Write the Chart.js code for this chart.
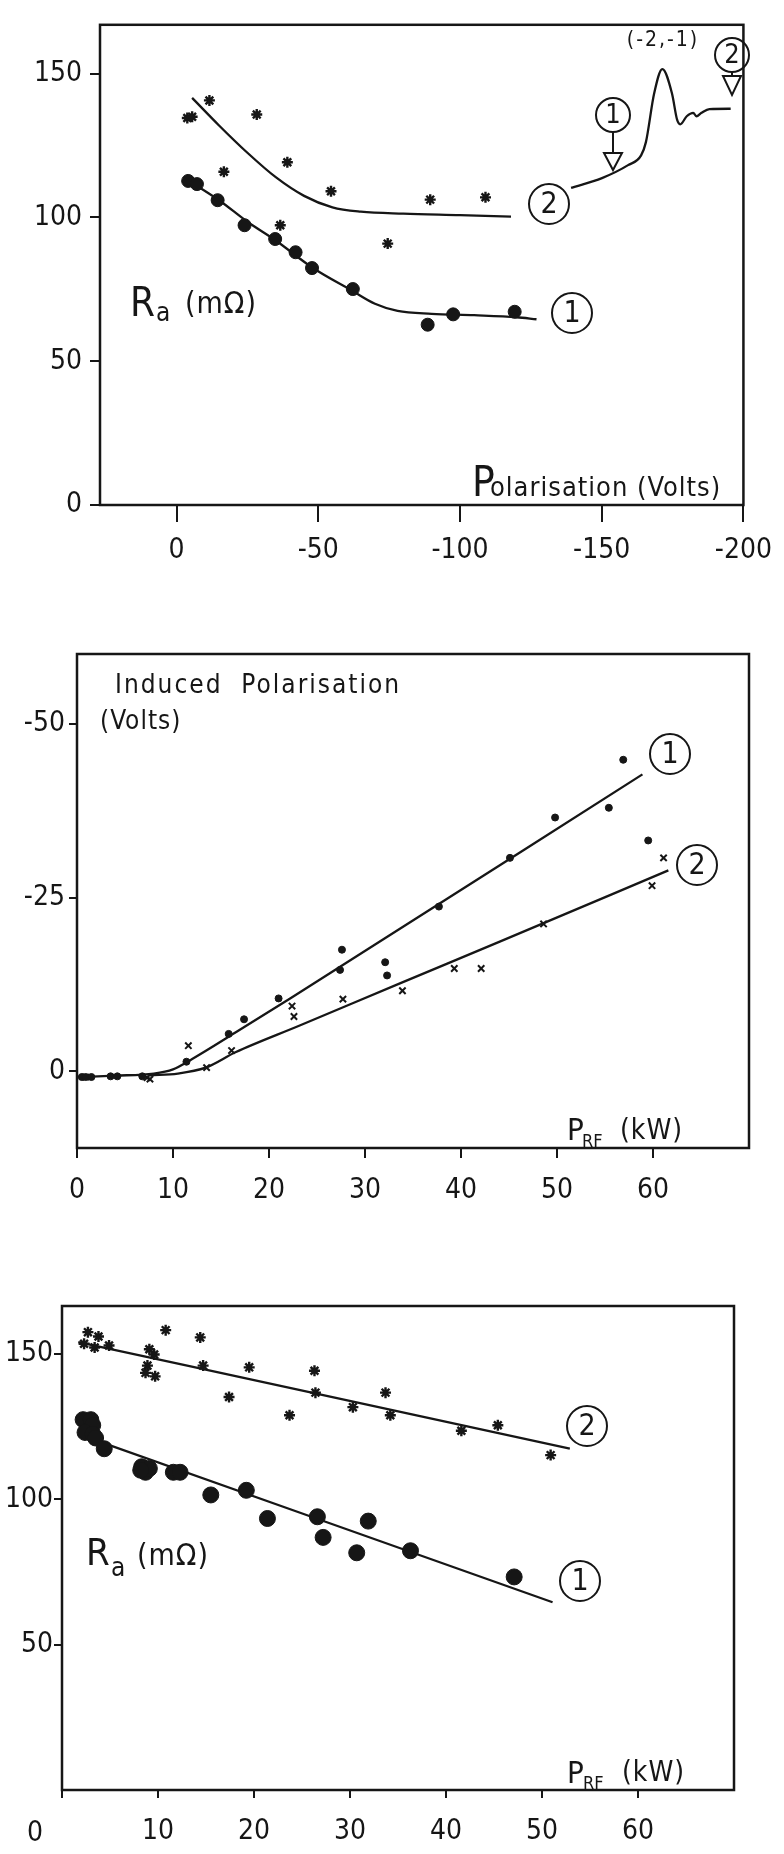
<!DOCTYPE html>
<html><head><meta charset="utf-8">
<script src="https://cdn.jsdelivr.net/npm/chart.js@4/dist/chart.umd.min.js"></script>
<style>
html,body{margin:0;padding:0;background:#fff;}
body{width:784px;height:1854px;position:relative;overflow:hidden;}
canvas{position:absolute;left:0;}
</style></head><body>
<canvas id="c1" width="784" height="600" style="top:0px"></canvas>
<canvas id="c2" width="784" height="620" style="top:600px"></canvas>
<canvas id="c3" width="784" height="634" style="top:1220px"></canvas>
<script>
// ---------------- Panel 1: Ra vs Polarisation ----------------
const p1XTicks = [0, -50, -100, -150, -200];
const p1YTicks = [0, 50, 100, 150];
const p1DotX = [-4.1, -7.2, -14.5, -24, -34.8, -42, -47.8, -62.2, -88.6, -97.6, -119.3];
const p1DotY = [112.7, 111.6, 106, 97.3, 92.5, 87.9, 82.4, 75.1, 62.7, 66.3, 67.2];
const p1StarX = [-3.8, -5.5, -11.6, -28.3, -16.7, -39.1, -36.6, -54.5, -74.5, -89.5, -109];
const p1StarY = [134.6, 135, 140.7, 135.8, 115.9, 119.2, 97.3, 109.1, 90.9, 106.2, 107];
const p1Fit1X = [-4, -15, -25, -35, -48, -62, -70, -78, -90, -105, -120, -127];
const p1Fit1Y = [113, 106, 98.5, 92, 82.5, 74.5, 70, 67.5, 66.5, 66, 65.3, 64.6];
const p1Fit2X = [-5.5, -15, -25, -35, -45, -55, -65, -80, -100, -118];
const p1Fit2Y = [141.6, 132, 122.5, 114, 107.5, 103.5, 102, 101.3, 100.8, 100.3];
const p1InsetX = [-139.2, -150.1, -159.3, -163.9, -165.6, -168.5, -171.4, -174.8, -176.6, -177.7, -180, -182.3, -183.4, -185.2, -188, -195.5];
const p1InsetY = [110.3, 113.7, 118.2, 121.6, 126.2, 143.1, 151.6, 143.1, 134, 132.4, 135.2, 136.4, 135.2, 136.4, 137.7, 137.8];

// ---------------- Panel 2: Induced polarisation vs P_RF ----------------
const p2XTicks = [0, 10, 20, 30, 40, 50, 60];
const p2YTicks = [-50, -25, 0];
const p2DotX = [56.9, 49.8, 55.4, 59.5, 45.1, 37.7, 27.6, 27.4, 32.1, 32.3, 21.0, 17.4, 15.8, 11.4, 0.5, 0.9, 1.5, 3.5, 4.2, 6.8];
const p2DotY = [-44.8, -36.5, -37.9, -33.2, -30.7, -23.7, -17.5, -14.6, -15.7, -13.8, -10.5, -7.5, -5.4, -1.4, 0.8, 0.8, 0.8, 0.7, 0.7, 0.7];
const p2CrossX = [61.1, 59.9, 48.6, 42.1, 39.3, 33.9, 27.7, 22.4, 22.6, 16.1, 11.6, 13.5, 7.3, 7.6, 0.9];
const p2CrossY = [-30.7, -26.7, -21.2, -14.8, -14.8, -11.6, -10.4, -9.4, -7.9, -3.0, -3.7, -0.55, 0.9, 1.1, 0.8];
const p2Fit1X = [0.3, 4, 8, 10, 12, 16.5, 22.2, 58.9];
const p2Fit1Y = [0.8, 0.6, 0.3, -0.3, -1.8, -5.6, -10.5, -42.7];
const p2Fit2X = [7.6, 10.5, 13.4, 16.5, 23.2, 33.7, 44.1, 61.6];
const p2Fit2Y = [0.55, 0.3, -0.55, -2.75, -6.6, -12.7, -18.7, -28.9];

// ---------------- Panel 3: Ra vs P_RF ----------------
const p3XTicks = [0, 10, 20, 30, 40, 50, 60];
const p3YTicks = [50, 100, 150];
const p3DotX = [2.2, 3.0, 3.2, 2.4, 3.2, 3.5, 4.4, 8.3, 8.7, 9.1, 8.2, 11.6, 12.3, 15.5, 19.2, 21.4, 26.6, 27.2, 30.7, 31.9, 36.3, 47.1];
const p3DotY = [127.4, 127.4, 125.5, 123, 122.4, 121.1, 117.4, 111.2, 109.3, 110.6, 110, 109.3, 109.3, 101.5, 103.1, 93.4, 94, 86.9, 81.6, 92.5, 82.3, 73.3];
const p3StarX = [2.7, 3.8, 2.3, 3.4, 4.9, 9.1, 9.6, 8.9, 8.7, 9.7, 10.8, 14.4, 14.7, 19.5, 17.4, 23.7, 26.3, 26.4, 30.3, 33.7, 34.2, 41.6, 45.4, 50.9];
const p3StarY = [157.5, 156, 153.5, 152.2, 152.9, 151.6, 149.8, 146, 143.5, 142.3, 158.2, 155.7, 146, 145.4, 135.2, 128.9, 144.2, 136.7, 131.7, 136.7, 128.9, 123.6, 125.5, 115.2];
const p3Fit1X = [1.7, 51.1];
const p3Fit1Y = [122.4, 64.6];
const p3Fit2X = [1.7, 52.9];
const p3Fit2Y = [154.1, 117.4];

// ---------------- helpers ----------------
const FONT = '"Liberation Sans Narrow","DejaVu Sans Condensed","Liberation Sans",sans-serif';
const INK = '#161616';
const pts = (xs, ys) => xs.map((x, i) => ({x, y: ys[i]}));

function lineDS(xs, ys, w) {
  return {data: pts(xs, ys), showLine: true, borderColor: INK, borderWidth: w || 2.3,
    pointRadius: 0, pointHoverRadius: 0, fill: false, cubicInterpolationMode: 'monotone', order: 1};
}
function ptDS(xs, ys, style, r, filled, bw) {
  return {data: pts(xs, ys), showLine: false, pointStyle: style, pointRadius: r, pointHoverRadius: r,
    backgroundColor: filled ? INK : 'rgba(0,0,0,0)', borderColor: INK, borderWidth: bw || 1, order: 0};
}
function scale(o) {
  return {
    type: 'linear', min: o.min, max: o.max, reverse: !!o.reverse,
    afterBuildTicks: s => { s.ticks = o.ticks.map(v => ({value: v})); },
    afterFit: s => { if (o.w !== undefined) s.width = o.w; if (o.h !== undefined) s.height = o.h; },
    grid: {drawOnChartArea: false, drawTicks: true, tickLength: o.tl, color: INK, lineWidth: 2},
    border: {display: false},
    ticks: {color: INK, font: {family: FONT, size: 28}, padding: o.pad, maxRotation: 0, autoSkip: false,
      callback: o.cb || (v => String(v))}
  };
}
function txt(ctx, s, x, y, size, align, spacing) {
  ctx.font = size + 'px ' + FONT;
  ctx.textAlign = align || 'left';
  ctx.textBaseline = 'alphabetic';
  try { ctx.letterSpacing = (spacing || 0) + 'px'; } catch (e) {}
  ctx.fillText(s, x, y);
  try { ctx.letterSpacing = '0px'; } catch (e) {}
}
function circled(ctx, cx, cy, n, r) {
  ctx.beginPath(); ctx.arc(cx, cy, r, 0, Math.PI * 2); ctx.lineWidth = 2; ctx.stroke();
  ctx.font = (r > 18 ? 30 : 27) + 'px ' + FONT; ctx.textAlign = 'center'; ctx.textBaseline = 'middle';
  ctx.fillText(n, cx, cy + 1);
}
function arrowDown(ctx, x, y0, yTri, yTip, hw) {
  ctx.lineWidth = 2;
  ctx.beginPath(); ctx.moveTo(x, y0); ctx.lineTo(x, yTri); ctx.stroke();
  ctx.beginPath(); ctx.moveTo(x - hw, yTri); ctx.lineTo(x + hw, yTri); ctx.lineTo(x, yTip); ctx.closePath(); ctx.stroke();
}
function decoPlugin(drawFn) {
  return {
    id: 'deco',
    afterDatasetsDraw(chart) {
      const {ctx, chartArea: a} = chart;
      ctx.save();
      ctx.strokeStyle = INK; ctx.fillStyle = INK; ctx.lineWidth = 2.5;
      ctx.strokeRect(a.left, a.top, a.right - a.left, a.bottom - a.top);
      drawFn(ctx, chart);
      ctx.restore();
    }
  };
}
function make(id, datasets, scales, pad, drawFn) {
  return new Chart(document.getElementById(id), {
    type: 'scatter',
    data: {datasets},
    options: {
      responsive: false, animation: false, devicePixelRatio: 1,
      layout: {padding: pad},
      plugins: {legend: {display: false}, tooltip: {enabled: false}},
      scales
    },
    plugins: [decoPlugin(drawFn)]
  });
}

// ---------------- Panel 1 ----------------
make('c1', [
  lineDS(p1Fit1X, p1Fit1Y),
  lineDS(p1Fit2X, p1Fit2Y),
  lineDS(p1InsetX, p1InsetY),
  ptDS(p1DotX, p1DotY, 'circle', 6.5, true, 1),
  ptDS(p1StarX, p1StarY, 'star', 5.5, false, 2.4)
], {
  x: scale({min: -200, max: 27, reverse: true, ticks: p1XTicks, h: 95, tl: 17, pad: 12}),
  y: scale({min: 0, max: 167, ticks: p1YTicks, w: 100, tl: 10, pad: 8})
}, {left: 0, right: 26, top: 13, bottom: 0}, (ctx) => {
  txt(ctx, 'R', 130, 316, 40);
  txt(ctx, 'a', 156, 321, 26);
  txt(ctx, '(mΩ)', 185, 313, 30, 'left', 1);
  txt(ctx, 'P', 472, 496, 42);
  txt(ctx, 'olarisation (Volts)', 490, 496, 27, 'left', 1);
  txt(ctx, '(-2,-1)', 663, 46, 21, 'center', 2);
  circled(ctx, 549, 204, '2', 20);
  circled(ctx, 572, 313, '1', 20);
  circled(ctx, 613, 115, '1', 17);
  arrowDown(ctx, 613, 132, 153, 170, 9);
  circled(ctx, 732, 55, '2', 17);
  arrowDown(ctx, 732, 72, 76, 95, 9);
});

// ---------------- Panel 2 ----------------
make('c2', [
  lineDS(p2Fit1X, p2Fit1Y),
  lineDS(p2Fit2X, p2Fit2Y),
  ptDS(p2DotX, p2DotY, 'circle', 3.5, true, 1),
  ptDS(p2CrossX, p2CrossY, 'crossRot', 4.5, false, 2)
], {
  x: scale({min: 0, max: 70, ticks: p2XTicks, h: 72, tl: 10, pad: 16}),
  y: scale({min: -60, max: 11, reverse: true, ticks: p2YTicks, w: 77, tl: 8, pad: 4})
}, {left: 0, right: 35, top: 54, bottom: 0}, (ctx) => {
  txt(ctx, 'Induced  Polarisation', 115, 93, 26, 'left', 2);
  txt(ctx, '(Volts)', 100, 129, 26, 'left', 1);
  txt(ctx, 'P', 567, 540, 31);
  txt(ctx, 'RF', 582, 547, 18);
  txt(ctx, '(kW)', 620, 539, 28, 'left', 1);
  circled(ctx, 670, 154, '1', 20);
  circled(ctx, 697, 265, '2', 20);
});

// ---------------- Panel 3 ----------------
make('c3', [
  lineDS(p3Fit1X, p3Fit1Y),
  lineDS(p3Fit2X, p3Fit2Y),
  ptDS(p3DotX, p3DotY, 'circle', 8, true, 1),
  ptDS(p3StarX, p3StarY, 'star', 5.5, false, 2.4)
], {
  x: scale({min: 0, max: 70, ticks: p3XTicks, h: 64, tl: 8, pad: 17, cb: v => (v === 0 ? '' : String(v))}),
  y: scale({min: 0, max: 166.5, ticks: p3YTicks, w: 62, tl: 8, pad: 1})
}, {left: 0, right: 50, top: 86, bottom: 0}, (ctx) => {
  txt(ctx, '0', 35, 621, 28, 'center');
  txt(ctx, 'R', 86, 345, 38);
  txt(ctx, 'a', 111, 356, 26);
  txt(ctx, '(mΩ)', 137, 345, 30, 'left', 1);
  txt(ctx, 'P', 567, 563, 31);
  txt(ctx, 'RF', 583, 569, 18);
  txt(ctx, '(kW)', 622, 561, 28, 'left', 1);
  circled(ctx, 587, 206, '2', 20);
  circled(ctx, 580, 361, '1', 20);
});
</script>
</body></html>
